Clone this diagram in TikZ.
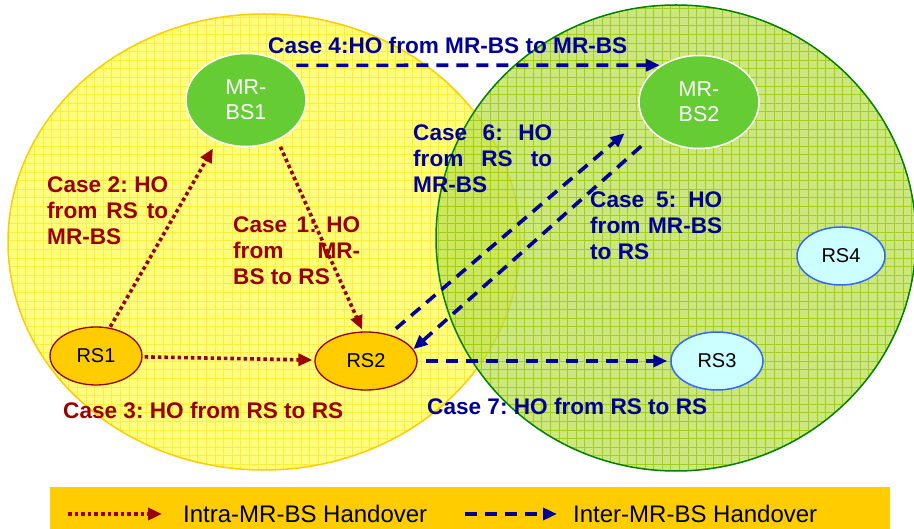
\documentclass[tikz,border=0pt]{standalone}
\usepackage{fontspec}
\setmainfont{Liberation Sans}
\usetikzlibrary{shapes.geometric}
\usetikzlibrary{arrows.meta}
\usepackage{xcolor}
\definecolor{hored}{RGB}{153,0,0}
\definecolor{hoblue}{RGB}{0,0,153}
\definecolor{bsgreen}{RGB}{102,204,51}
\definecolor{rsorange}{RGB}{255,204,0}
\definecolor{rscyan}{RGB}{204,255,255}
\definecolor{rsblue}{RGB}{51,102,255}
\definecolor{cellyellow}{RGB}{255,255,125}
\definecolor{gridyellow}{RGB}{255,236,60}
\definecolor{cellgreen}{RGB}{187,222,86}
\definecolor{gridgreen}{RGB}{150,200,0}
\definecolor{edgegreen}{RGB}{0,128,0}
\frenchspacing

\tikzset{
  bs/.style={ellipse, fill=bsgreen, draw=white, line width=1.5pt, text=white,
    inner sep=0pt, minimum width=120pt, minimum height=93pt, align=center,
    font=\fontsize{21.5pt}{25pt}\selectfont},
  rsold/.style={ellipse, fill=rsorange, draw=hored, line width=1.3pt, inner sep=0pt,
    minimum width=92pt, minimum height=58pt, font=\fontsize{20pt}{24pt}\selectfont},
  rsnew/.style={rsold, fill=rscyan, draw=rsblue, line width=1.5pt},
  intra/.style={hored, line width=3.6pt, dash pattern=on 3.6pt off 3pt,
    -{Triangle[length=14pt,width=12pt]}},
  inter/.style={hoblue, line width=3.6pt, dash pattern=on 12pt off 8pt,
    -{Triangle[length=14pt,width=12pt]}},
  redlbl/.style={text=hored, inner sep=0pt, anchor=north west, align=justify,
    font=\bfseries\fontsize{22.6pt}{26pt}\selectfont},
  bluelbl/.style={redlbl, text=hoblue},
  legendtxt/.style={inner sep=0pt, anchor=west, font=\fontsize{24pt}{28pt}\selectfont}
}

\begin{document}
\begin{tikzpicture}[x=1pt, y=-1pt]
  \useasboundingbox (0,0) rectangle (914,529);%
  % yellow cell (MR-BS1)
  \begin{scope}
    \clip (264,242) ellipse [x radius=256, y radius=228];
    \fill[cellyellow] (0,0) rectangle (914,529);
    \draw[gridyellow, line width=0.9pt, step=8.6pt] (0,0) grid (914,529);
  \end{scope}
  \draw[rsorange, line width=1.5pt] (264,242) ellipse [x radius=256, y radius=228];%
  % green cell (MR-BS2)
  \begin{scope}
    \clip (676,238) ellipse [x radius=240, y radius=233];
    \fill[cellgreen, fill opacity=0.75] (0,0) rectangle (914,529);
    \draw[gridgreen, line width=0.9pt, opacity=0.8, step=8.6pt] (0,0) grid (914,529);
  \end{scope}
  \draw[edgegreen, line width=1.5pt] (676,238) ellipse [x radius=240, y radius=233];%

  \node[bs] (bs1) at (246,100) {MR-\\BS1};%
  \node[bs] (bs2) at (699,102) {MR-\\BS2};%
  \node[rsold] (rs1) at (96,356) {RS1};%
  \node[rsold, minimum width=102pt] (rs2) at (366,361) {RS2};%
  \node[rsnew] (rs3) at (717,361) {RS3};%
  \node[rsnew, minimum width=88pt] (rs4) at (841,256) {RS4};%

  \draw[intra, shorten <=1pt, shorten >=8pt] (rs1.64) -- (bs1.235);%
  \draw[intra, shorten <=7pt, shorten >=2pt] (bs1.308) -- (rs2.96);%
  \draw[intra, shorten <=2pt, shorten >=2pt] (rs1) -- (rs2);%
  \draw[inter, shorten <=9pt, shorten >=1pt] (bs1.40) -- (bs2.136);%
  \draw[inter, shorten <=9pt, shorten >=23pt] (rs2.49) -- (bs2.196);%
  \draw[inter, shorten <=18pt] (bs2.216) -- (rs2.14);%
  \draw[inter, shorten <=8pt, shorten >=3pt] (rs2) -- (rs3);%

  \node[redlbl, text width=121pt] (case2) at (47,177) {Case 2: HO\linebreak from RS to\linebreak MR-BS};%
  \node[redlbl, text width=127pt] (case1) at (233,217) {Case 1: HO\linebreak from MR-\linebreak BS to RS};%
  \node[redlbl] (case3) at (63,402) {Case 3: HO from RS to RS};%
  \node[bluelbl] (case4) at (268,37) {Case 4:HO from MR-BS to MR-BS};%
  \node[bluelbl, text width=132pt] (case5) at (590,192) {Case 5: HO\linebreak from MR-BS\linebreak to RS};%
  \node[bluelbl, text width=139pt] (case6) at (413,125) {Case 6: HO\linebreak from RS to\linebreak MR-BS};%
  \node[bluelbl] (case7) at (427,398) {Case 7: HO from RS to RS};%

  % legend
  \node[fill=rsorange, minimum width=840pt, minimum height=42pt, inner sep=0pt] (legend) at (470,508) {};%
  \coordinate (intraA) at (68,514);%
  \coordinate (intraB) at (162,514);%
  \coordinate (interA) at (465,514);%
  \coordinate (interB) at (557,514);%
  \draw[intra] (intraA) -- (intraB);%
  \draw[inter] (interA) -- (interB);%
  \node[legendtxt] (intratxt) at (183,514) {Intra-MR-BS Handover};%
  \node[legendtxt] (intertxt) at (573,514) {Inter-MR-BS Handover};%
\end{tikzpicture}
\end{document}
